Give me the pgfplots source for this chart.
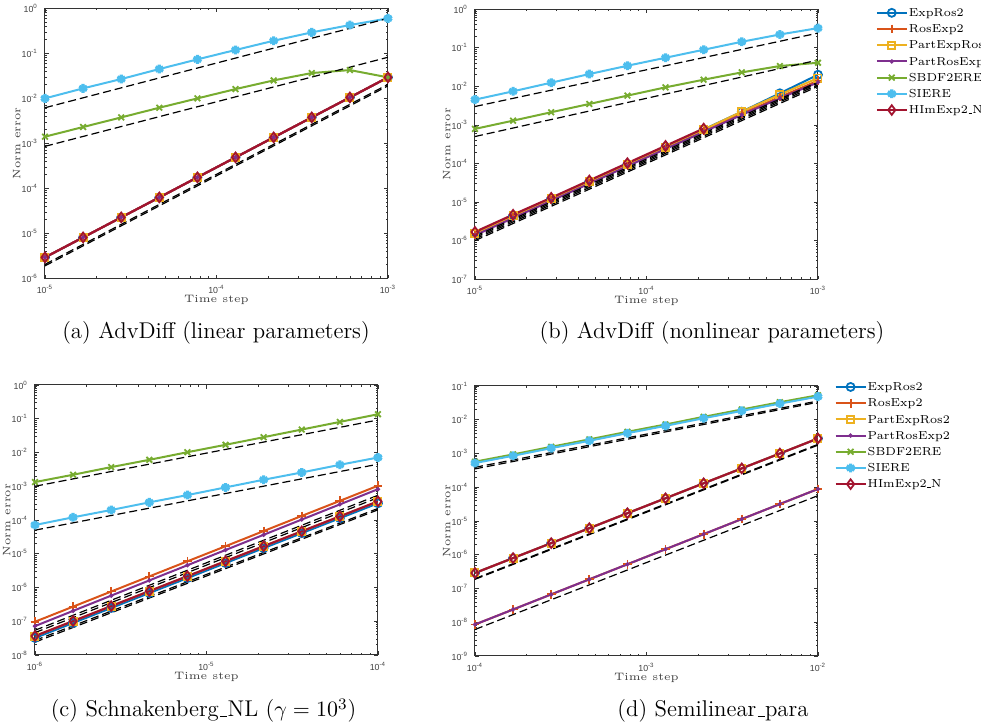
\documentclass[border=0pt]{standalone}
\usepackage{fontspec}
\usepackage{pgfplots}
\usepackage{pgfplotstable}
\pgfplotsset{compat=1.18}
\newfontfamily\tickfont{Liberation Sans}
\definecolor{cER}{RGB}{0,114,189}
\definecolor{cRE}{RGB}{217,83,25}
\definecolor{cPER}{RGB}{237,177,32}
\definecolor{cPRE}{RGB}{126,47,142}
\definecolor{cSB}{RGB}{119,172,48}
\definecolor{cSI}{RGB}{77,190,238}
\definecolor{cHI}{RGB}{162,20,47}
\newcommand\tk[1]{10\textsuperscript{#1}}
\newcommand\us{\leavevmode\kern.06em\vbox{\hrule width.3em height 0.04em}\kern.02em}

\pgfplotstableread{
x ER RE PER PRE SB SI HI
1e-5 2.93e-6 2.93e-6 2.93e-6 2.93e-6 1.41e-3 1.00e-2 2.93e-6
1.6681e-5 8.14e-6 8.14e-6 8.14e-6 8.14e-6 2.31e-3 1.67e-2 8.14e-6
2.7826e-5 2.27e-5 2.27e-5 2.27e-5 2.27e-5 3.78e-3 2.69e-2 2.27e-5
4.6416e-5 6.3e-5 6.3e-5 6.3e-5 6.3e-5 6.2e-3 4.49e-2 6.3e-5
7.7426e-5 1.76e-4 1.76e-4 1.76e-4 1.76e-4 1.0e-2 7.36e-2 1.76e-4
1.2915e-4 4.89e-4 4.89e-4 4.89e-4 4.89e-4 1.61e-2 0.119 4.89e-4
2.1544e-4 1.36e-3 1.36e-3 1.36e-3 1.36e-3 2.51e-2 0.191 1.36e-3
3.5938e-4 3.78e-3 3.78e-3 3.78e-3 3.78e-3 3.66e-2 0.293 3.78e-3
5.9948e-4 1.05e-2 1.05e-2 1.05e-2 1.05e-2 4.26e-2 0.426 1.05e-2
1e-3 2.93e-2 2.93e-2 2.93e-2 2.93e-2 2.93e-2 0.600 2.93e-2
}\tA

\pgfplotstableread{
x ER RE PER PRE SB SI HI
1e-5 1.58e-6 1.45e-6 1.55e-6 1.37e-6 7.88e-4 4.52e-3 1.68e-6
1.6681e-5 4.4e-6 4.1e-6 4.35e-6 3.85e-6 1.29e-3 7.43e-3 4.7e-6
2.7826e-5 1.22e-5 1.14e-5 1.2e-5 1.08e-5 2.13e-3 1.244e-2 1.29e-5
4.6416e-5 3.4e-5 3.2e-5 3.35e-5 3.0e-5 3.49e-3 2.08e-2 3.63e-5
7.7426e-5 9.6e-5 9.0e-5 9.4e-5 8.5e-5 5.74e-3 3.42e-2 1.02e-4
1.2915e-4 2.7e-4 2.5e-4 2.65e-4 2.38e-4 9.42e-3 5.51e-2 2.86e-4
2.1544e-4 7.6e-4 7.0e-4 7.5e-4 6.6e-4 1.487e-2 8.88e-2 8.04e-4
3.5938e-4 2.2e-3 1.95e-3 2.21e-3 1.82e-3 2.30e-2 0.143 nan
5.9948e-4 6.6e-3 5.3e-3 6.1e-3 4.9e-3 3.36e-2 0.221 nan
1e-3 2.0e-2 1.40e-2 1.64e-2 1.27e-2 4.09e-2 0.323 nan
}\tB

\pgfplotstableread{
x ER RE PER PRE SB SI HI
1e-6 3.2e-8 9.66e-8 3.65e-8 7.19e-8 1.33e-3 7.11e-5 3.65e-8
1.6681e-6 8.9e-8 2.71e-7 1.01e-7 2.03e-7 2.19e-3 1.20e-4 1.01e-7
2.7826e-6 2.47e-7 7.60e-7 2.81e-7 5.74e-7 3.69e-3 1.98e-4 2.81e-7
4.6416e-6 6.86e-7 2.13e-6 7.80e-7 1.62e-6 6.07e-3 3.33e-4 7.80e-7
7.7426e-6 1.90e-6 5.97e-6 2.16e-6 4.57e-6 1.02e-2 5.48e-4 2.16e-6
1.2915e-5 5.29e-6 1.67e-5 6.01e-6 1.29e-5 1.69e-2 9.24e-4 6.01e-6
2.1544e-5 1.47e-5 4.70e-5 1.67e-5 3.65e-5 2.84e-2 1.56e-3 1.67e-5
3.5938e-5 4.07e-5 1.32e-4 4.62e-5 1.03e-4 4.79e-2 2.56e-3 4.62e-5
5.9948e-5 1.13e-4 3.69e-4 1.28e-4 2.90e-4 8.06e-2 4.32e-3 1.28e-4
1e-4 3.13e-4 1.035e-3 3.56e-4 8.20e-4 0.136 7.11e-3 3.56e-4
}\tC

\pgfplotstableread{
x ER RE PER PRE SB SI HI
1e-4 2.88e-7 8.57e-9 2.88e-7 8.57e-9 5.73e-4 5.21e-4 2.88e-7
1.6681e-4 7.98e-7 2.39e-8 7.98e-7 2.39e-8 9.4e-4 8.57e-4 7.98e-7
2.7826e-4 2.21e-6 6.69e-8 2.21e-6 6.69e-8 1.58e-3 1.44e-3 2.21e-6
4.6416e-4 6.12e-6 1.87e-7 6.12e-6 1.87e-7 2.62e-3 2.38e-3 6.12e-6
7.7426e-4 1.70e-5 5.22e-7 1.70e-5 5.22e-7 4.40e-3 4.00e-3 1.70e-5
1.2915e-3 4.71e-5 1.46e-6 4.71e-5 1.46e-6 7.25e-3 6.59e-3 4.71e-5
2.1544e-3 1.31e-4 4.08e-6 1.31e-4 4.08e-6 1.22e-2 1.11e-2 1.31e-4
3.5938e-3 3.62e-4 1.14e-5 3.62e-4 1.14e-5 2.01e-2 1.83e-2 3.62e-4
5.9948e-3 1.00e-3 3.18e-5 1.00e-3 3.18e-5 3.31e-2 3.01e-2 1.00e-3
1e-2 2.79e-3 8.89e-5 2.79e-3 8.89e-5 5.32e-2 4.84e-2 2.79e-3
}\tD

\pgfplotsset{
  sER/.style={color=cER, line width=1pt, mark=o, mark size=2pt, mark options={solid, line width=0.9pt}},
  sRE/.style={color=cRE, line width=1pt, mark=+, mark size=2.2pt, mark options={solid, line width=0.9pt}},
  sPER/.style={color=cPER, line width=1pt, mark=square, mark size=1.8pt, mark options={solid, line width=0.9pt}},
  sPRE/.style={color=cPRE, line width=1pt, mark=*, mark size=0.5pt, mark options={solid}},
  sSB/.style={color=cSB, line width=1pt, mark=x, mark size=2pt, mark options={solid, line width=0.9pt}},
  sSI/.style={color=cSI, line width=1pt, mark=asterisk, mark size=2.2pt, mark options={solid, line width=1.6pt}},
  sHI/.style={color=cHI, line width=1.1pt, mark=diamond, mark size=2.4pt, mark options={solid, line width=0.9pt}},
  refline/.style={black, line width=0.6pt, dash pattern=on 4pt off 2pt, forget plot},
  mypanel/.style={
    scale only axis, width=171.5pt, height=135pt,
    anchor=south west,
    axis line style={black!80, line width=0.5pt},
    major tick length=1.8pt, minor tick length=1pt,
    tick style={black!80, line width=0.35pt},
    tick label style={font=\tickfont\fontsize{4.4}{5}\selectfont, text=black!75},
    label style={font=\fontsize{5.4}{6}\selectfont, text=black!75},
    xlabel={Time step}, ylabel={Norm error},
    xlabel style={at={(axis description cs:0.5,-0.081)}, anchor=center},
    ylabel style={at={(axis description cs:-0.082,0.5)}, anchor=center},
    legend cell align=left,
    legend image code/.code={\draw[mark repeat=2,mark phase=2] plot coordinates {(0pt,0pt) (7.5pt,0pt) (15pt,0pt)};},
  },
  myleg/.style={legend style={draw=none, fill=none, anchor=north west, font=\fontsize{5.8}{7}\selectfont, inner sep=0pt, row sep=0pt, nodes={inner xsep=0.5pt, inner ysep=0pt, text height=5.9pt, text depth=2.2pt}}},
}

\begin{document}
\begin{tikzpicture}
\useasboundingbox (0,0) rectangle (490.5pt,363.5pt);

% (a)
\begin{loglogaxis}[mypanel, at={(22.5pt,224.3pt)},
  xmin=1e-5, xmax=1e-3, ymin=1e-6, ymax=1,
  xtick={1e-5,1e-4,1e-3}, xticklabels={\tk{-5},\tk{-4},\tk{-3}},
  minor xtick={2e-5,3e-5,4e-5,5e-5,6e-5,7e-5,8e-5,9e-5,2e-4,3e-4,4e-4,5e-4,6e-4,7e-4,8e-4,9e-4},
  ytick={1e-6,1e-5,1e-4,1e-3,1e-2,1e-1,1},
  yticklabels={\tk{-6},\tk{-5},\tk{-4},\tk{-3},\tk{-2},\tk{-1},\tk{0}},
  minor ytick={2e-6,3e-6,4e-6,5e-6,6e-6,7e-6,8e-6,9e-6,2e-5,3e-5,4e-5,5e-5,6e-5,7e-5,8e-5,9e-5,2e-4,3e-4,4e-4,5e-4,6e-4,7e-4,8e-4,9e-4,2e-3,3e-3,4e-3,5e-3,6e-3,7e-3,8e-3,9e-3,2e-2,3e-2,4e-2,5e-2,6e-2,7e-2,8e-2,9e-2,2e-1,3e-1,4e-1,5e-1,6e-1,7e-1,8e-1,9e-1},
]
\addplot[sER] table[x=x,y=ER]{\tA};
\addplot[sRE] table[x=x,y=RE]{\tA};
\addplot[sPER] table[x=x,y=PER]{\tA};
\addplot[sPRE] table[x=x,y=PRE]{\tA};
\addplot[sSB] table[x=x,y=SB]{\tA};
\addplot[sSI] table[x=x,y=SI]{\tA};
\addplot[sHI] table[x=x,y=HI]{\tA};
\addplot[refline] coordinates {(1e-5,6.2e-3) (1e-3,0.6)};
\addplot[refline] coordinates {(1e-5,8.6e-4) (1e-3,0.082)};
\addplot[refline] coordinates {(1e-5,1.9e-6) (1e-3,1.9e-2)};
\addplot[refline] coordinates {(1e-5,2.05e-6) (1e-3,2.05e-2)};
\end{loglogaxis}

% (b)
\begin{loglogaxis}[mypanel, myleg, at={(237.5pt,223.9pt)},
  legend style={at={(axis description cs:1.167,1.018)}},
  xmin=1e-5, xmax=1e-3, ymin=1e-7, ymax=1,
  xtick={1e-5,1e-4,1e-3}, xticklabels={\tk{-5},\tk{-4},\tk{-3}},
  minor xtick={2e-5,3e-5,4e-5,5e-5,6e-5,7e-5,8e-5,9e-5,2e-4,3e-4,4e-4,5e-4,6e-4,7e-4,8e-4,9e-4},
  ytick={1e-7,1e-6,1e-5,1e-4,1e-3,1e-2,1e-1,1},
  yticklabels={\tk{-7},\tk{-6},\tk{-5},\tk{-4},\tk{-3},\tk{-2},\tk{-1},\tk{0}},
  minor ytick={2e-7,3e-7,4e-7,5e-7,6e-7,7e-7,8e-7,9e-7,2e-6,3e-6,4e-6,5e-6,6e-6,7e-6,8e-6,9e-6,2e-5,3e-5,4e-5,5e-5,6e-5,7e-5,8e-5,9e-5,2e-4,3e-4,4e-4,5e-4,6e-4,7e-4,8e-4,9e-4,2e-3,3e-3,4e-3,5e-3,6e-3,7e-3,8e-3,9e-3,2e-2,3e-2,4e-2,5e-2,6e-2,7e-2,8e-2,9e-2,2e-1,3e-1,4e-1,5e-1,6e-1,7e-1,8e-1,9e-1},
]
\addplot[sER] table[x=x,y=ER]{\tB};
\addplot[sRE] table[x=x,y=RE]{\tB};
\addplot[sPER] table[x=x,y=PER]{\tB};
\addplot[sPRE] table[x=x,y=PRE]{\tB};
\addplot[sSB] table[x=x,y=SB]{\tB};
\addplot[sSI] table[x=x,y=SI]{\tB};
\addplot[sHI] table[x=x,y=HI]{\tB};
\legend{ExpRos2,RosExp2,PartExpRos2,PartRosExp2,SBDF2ERE,SIERE,HImExp2\us N}
\addplot[refline] coordinates {(1e-5,3.0e-3) (1e-3,0.24)};
\addplot[refline] coordinates {(1e-5,5.0e-4) (1e-3,0.048)};
\addplot[refline] coordinates {(1e-5,1.3e-6) (1e-3,1.3e-2)};
\addplot[refline] coordinates {(1e-5,1.2e-6) (1e-3,1.2e-2)};
\addplot[refline] coordinates {(1e-5,1.1e-6) (1e-3,1.1e-2)};
\addplot[refline] coordinates {(1e-5,1.0e-6) (1e-3,1.0e-2)};
\end{loglogaxis}

% (c)
\begin{loglogaxis}[mypanel, at={(17.5pt,36pt)},
  xmin=1e-6, xmax=1e-4, ymin=1e-8, ymax=1,
  xtick={1e-6,1e-5,1e-4}, xticklabels={\tk{-6},\tk{-5},\tk{-4}},
  minor xtick={2e-6,3e-6,4e-6,5e-6,6e-6,7e-6,8e-6,9e-6,2e-5,3e-5,4e-5,5e-5,6e-5,7e-5,8e-5,9e-5},
  ytick={1e-8,1e-7,1e-6,1e-5,1e-4,1e-3,1e-2,1e-1,1},
  yticklabels={\tk{-8},\tk{-7},\tk{-6},\tk{-5},\tk{-4},\tk{-3},\tk{-2},\tk{-1},\tk{0}},
  minor ytick={2e-8,3e-8,4e-8,5e-8,6e-8,7e-8,8e-8,9e-8,2e-7,3e-7,4e-7,5e-7,6e-7,7e-7,8e-7,9e-7,2e-6,3e-6,4e-6,5e-6,6e-6,7e-6,8e-6,9e-6,2e-5,3e-5,4e-5,5e-5,6e-5,7e-5,8e-5,9e-5,2e-4,3e-4,4e-4,5e-4,6e-4,7e-4,8e-4,9e-4,2e-3,3e-3,4e-3,5e-3,6e-3,7e-3,8e-3,9e-3,2e-2,3e-2,4e-2,5e-2,6e-2,7e-2,8e-2,9e-2,2e-1,3e-1,4e-1,5e-1,6e-1,7e-1,8e-1,9e-1},
]
\addplot[sER] table[x=x,y=ER]{\tC};
\addplot[sRE] table[x=x,y=RE]{\tC};
\addplot[sPER] table[x=x,y=PER]{\tC};
\addplot[sPRE] table[x=x,y=PRE]{\tC};
\addplot[sSB] table[x=x,y=SB]{\tC};
\addplot[sSI] table[x=x,y=SI]{\tC};
\addplot[sHI] table[x=x,y=HI]{\tC};
\addplot[refline] coordinates {(1e-6,1.0e-3) (1e-4,9.2e-2)};
\addplot[refline] coordinates {(1e-6,5.0e-5) (1e-4,4.5e-3)};
\addplot[refline] coordinates {(1e-6,5.4e-8) (1e-4,5.4e-4)};
\addplot[refline] coordinates {(1e-6,4.6e-8) (1e-4,4.6e-4)};
\addplot[refline] coordinates {(1e-6,2.7e-8) (1e-4,2.2e-4)};
\addplot[refline] coordinates {(1e-6,2.4e-8) (1e-4,2.0e-4)};
\end{loglogaxis}

% (d)
\begin{loglogaxis}[mypanel, myleg, at={(237.5pt,35.5pt)},
  legend style={at={(axis description cs:1.047,1.028)}},
  xmin=1e-4, xmax=1e-2, ymin=1e-9, ymax=1e-1,
  xtick={1e-4,1e-3,1e-2}, xticklabels={\tk{-4},\tk{-3},\tk{-2}},
  minor xtick={2e-4,3e-4,4e-4,5e-4,6e-4,7e-4,8e-4,9e-4,2e-3,3e-3,4e-3,5e-3,6e-3,7e-3,8e-3,9e-3},
  ytick={1e-9,1e-8,1e-7,1e-6,1e-5,1e-4,1e-3,1e-2,1e-1},
  yticklabels={\tk{-9},\tk{-8},\tk{-7},\tk{-6},\tk{-5},\tk{-4},\tk{-3},\tk{-2},\tk{-1}},
  minor ytick={2e-9,3e-9,4e-9,5e-9,6e-9,7e-9,8e-9,9e-9,2e-8,3e-8,4e-8,5e-8,6e-8,7e-8,8e-8,9e-8,2e-7,3e-7,4e-7,5e-7,6e-7,7e-7,8e-7,9e-7,2e-6,3e-6,4e-6,5e-6,6e-6,7e-6,8e-6,9e-6,2e-5,3e-5,4e-5,5e-5,6e-5,7e-5,8e-5,9e-5,2e-4,3e-4,4e-4,5e-4,6e-4,7e-4,8e-4,9e-4,2e-3,3e-3,4e-3,5e-3,6e-3,7e-3,8e-3,9e-3,2e-2,3e-2,4e-2,5e-2,6e-2,7e-2,8e-2,9e-2},
]
\addplot[sER] table[x=x,y=ER]{\tD};
\addplot[sRE] table[x=x,y=RE]{\tD};
\addplot[sPER] table[x=x,y=PER]{\tD};
\addplot[sPRE] table[x=x,y=PRE]{\tD};
\addplot[sSB] table[x=x,y=SB]{\tD};
\addplot[sSI] table[x=x,y=SI]{\tD};
\addplot[sHI] table[x=x,y=HI]{\tD};
\legend{ExpRos2,RosExp2,PartExpRos2,PartRosExp2,SBDF2ERE,SIERE,HImExp2\us N}
\addplot[refline] coordinates {(1e-4,3.9e-4) (1e-2,3.6e-2)};
\addplot[refline] coordinates {(1e-4,3.5e-4) (1e-2,3.3e-2)};
\addplot[refline] coordinates {(1e-4,1.87e-7) (1e-2,1.77e-3)};
\addplot[refline] coordinates {(1e-4,1.97e-7) (1e-2,1.87e-3)};
\addplot[refline] coordinates {(1e-4,6.1e-9) (1e-2,5.65e-5)};
\end{loglogaxis}

\node[anchor=base, font=\fontsize{11.4}{14}\selectfont] at (108pt,194pt) {(a) AdvDiff (linear parameters)};
\node[anchor=base, font=\fontsize{11.4}{14}\selectfont] at (356pt,194pt) {(b) AdvDiff (nonlinear parameters)};
\node[anchor=base, font=\fontsize{11.4}{14}\selectfont] at (101.75pt,5pt) {(c) Schnakenberg\us NL ($\gamma = 10^3$)};
\node[anchor=base, font=\fontsize{11.4}{14}\selectfont] at (356.5pt,5pt) {(d) Semilinear\us para};
\end{tikzpicture}
\end{document}
